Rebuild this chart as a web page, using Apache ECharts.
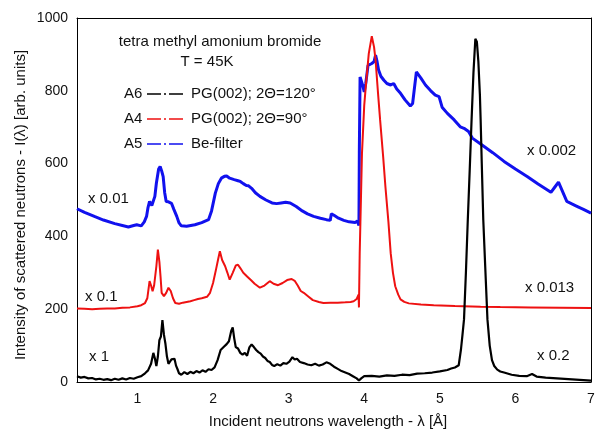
<!DOCTYPE html>
<html>
<head>
<meta charset="utf-8">
<script src="https://cdn.jsdelivr.net/npm/echarts@6/dist/echarts.min.js"></script>
<style>
html,body{margin:0;padding:0;background:#fff;}
.layer{position:absolute;left:0;top:0;width:595px;height:432px;}
#frame{z-index:1;}
#chart{z-index:2;}
</style>
</head>
<body>
<div class="layer" id="frame"></div>
<div class="layer" id="chart"></div>
<script>
// ---- data (wavelength in Å, intensity in arb. units as plotted) ----
var xMajorTicks = [1, 2, 3, 4, 5, 6, 7];
var yMajorTicks = [0, 200, 400, 600, 800, 1000];

// A6 — PG(002); 2Θ=120°  (x1 below 5 Å, x0.2 peak)
var a6 = [
 [0.20,16],[0.25,12],[0.30,14],[0.35,10],[0.40,11],[0.45,7],[0.50,9],[0.55,6],[0.60,8],[0.65,5],
 [0.70,9],[0.75,6],[0.80,10],[0.85,7],[0.90,11],[0.95,9],[1.00,13],[1.05,16],[1.10,24],[1.14,32],
 [1.18,50],[1.21,80],[1.23,65],[1.25,44],[1.27,70],[1.29,115],[1.31,125],[1.33,170],[1.35,130],[1.37,105],
 [1.39,70],[1.41,50],[1.43,55],[1.45,62],[1.47,58],[1.49,64],[1.51,45],[1.53,35],[1.55,24],[1.58,20],
 [1.62,27],[1.66,22],[1.70,28],[1.74,24],[1.78,30],[1.82,26],[1.86,32],[1.90,28],[1.94,35],[1.98,33],
 [2.02,40],[2.06,60],[2.10,88],[2.14,96],[2.18,104],[2.21,112],[2.24,140],[2.26,150],[2.28,120],[2.30,96],
 [2.33,92],[2.36,80],[2.39,75],[2.42,80],[2.45,72],[2.48,95],[2.51,103],[2.54,96],[2.57,88],[2.60,82],
 [2.63,78],[2.66,70],[2.69,66],[2.72,58],[2.75,55],[2.78,47],[2.81,44],[2.85,49],[2.89,45],[2.93,52],
 [2.97,50],[3.01,56],[3.05,68],[3.08,62],[3.11,64],[3.15,55],[3.20,52],[3.25,48],[3.30,46],[3.35,50],
 [3.40,45],[3.45,48],[3.50,54],[3.55,50],[3.60,42],[3.65,36],[3.70,30],[3.75,26],[3.80,22],[3.85,16],
 [3.90,10],[3.93,4],[3.96,10],[4.00,16],[4.10,17],[4.20,15],[4.30,18],[4.40,17],[4.50,20],[4.60,19],
 [4.70,23],[4.80,24],[4.90,26],[5.00,29],[5.10,33],[5.15,37],[5.20,40],[5.25,46],[5.28,90],[5.30,130],
 [5.32,172],[5.345,300],[5.37,445],[5.395,580],[5.42,720],[5.445,850],[5.47,943],[5.49,935],[5.51,880],[5.53,790],
 [5.54,720],[5.555,600],[5.575,445],[5.60,320],[5.63,172],[5.66,100],[5.69,60],[5.72,44],[5.76,34],[5.80,29],
 [5.85,26],[5.95,20],[6.05,17],[6.15,16],[6.22,22],[6.28,15],[6.40,12],[6.55,10],[6.70,8],[6.85,6],[7.00,4]
];

// A4 — PG(002); 2Θ=90°  (x0.1 below 3.93 Å, x0.013 above)
var a4 = [
 [0.20,202],[0.30,201],[0.40,200],[0.50,201],[0.60,202],[0.70,202],[0.80,204],[0.90,205],[1.00,208],[1.05,211],
 [1.10,217],[1.13,230],[1.16,277],[1.18,265],[1.20,249],[1.22,265],[1.25,318],[1.27,364],[1.29,330],[1.305,290],
 [1.32,245],[1.35,236],[1.38,245],[1.41,259],[1.44,250],[1.47,230],[1.50,217],[1.55,215],[1.60,218],[1.65,220],
 [1.70,222],[1.75,225],[1.80,228],[1.85,230],[1.92,234],[1.96,245],[2.00,272],[2.04,310],[2.07,340],[2.09,359],
 [2.12,335],[2.16,318],[2.19,300],[2.22,281],[2.26,300],[2.30,320],[2.33,322],[2.36,313],[2.40,300],[2.45,290],
 [2.50,280],[2.55,270],[2.62,259],[2.68,265],[2.75,277],[2.80,270],[2.86,266],[2.92,272],[2.98,280],[3.04,283],
 [3.08,278],[3.12,265],[3.16,250],[3.20,245],[3.26,235],[3.32,225],[3.40,220],[3.46,217],[3.55,218],[3.65,218],
 [3.75,219],[3.82,220],[3.86,222],[3.90,228],[3.925,240],[3.93,205],[3.94,354],[3.97,628],[4.00,760],[4.02,811],
 [4.06,902],[4.10,950],[4.13,920],[4.15,884],[4.18,800],[4.21,720],[4.25,620],[4.28,537],[4.32,440],[4.35,354],
 [4.38,300],[4.41,263],[4.45,240],[4.48,227],[4.53,220],[4.59,216],[4.75,213],[4.92,211],[5.20,209],[5.54,207],
 [5.80,206],[6.20,205],[6.60,204],[7.00,203]
];

// A5 — Be-filter  (x0.01 below 3.93 Å, x0.002 above)
var a5 = [
 [0.20,476],[0.30,466],[0.43,455],[0.55,445],[0.70,435],[0.80,430],[0.88,426],[0.95,430],[0.99,432],[1.05,429],
 [1.09,440],[1.12,455],[1.14,480],[1.16,496],[1.19,485],[1.21,482],[1.23,510],[1.25,546],[1.28,585],[1.30,592],
 [1.32,580],[1.34,564],[1.36,520],[1.38,496],[1.41,495],[1.45,491],[1.48,475],[1.52,455],[1.55,437],[1.58,429],
 [1.65,428],[1.76,432],[1.85,438],[1.94,446],[1.98,470],[2.03,519],[2.07,545],[2.11,560],[2.15,565],[2.18,566],
 [2.22,560],[2.28,556],[2.33,553],[2.36,551],[2.40,545],[2.44,540],[2.47,539],[2.51,532],[2.56,520],[2.62,510],
 [2.70,500],[2.78,492],[2.84,490],[2.90,492],[2.96,494],[3.02,492],[3.10,482],[3.18,470],[3.25,462],[3.33,455],
 [3.42,450],[3.50,446],[3.55,444],[3.565,462],[3.60,458],[3.66,450],[3.73,444],[3.80,440],[3.88,438],[3.91,442],
 [3.925,446],[3.93,430],[3.935,629],[3.945,838],[3.96,838],[3.98,815],[4.00,797],[4.02,820],[4.05,870],[4.10,875],
 [4.13,880],[4.15,898],[4.17,880],[4.19,857],[4.22,840],[4.26,829],[4.30,820],[4.35,816],[4.39,820],[4.43,805],
 [4.48,793],[4.54,775],[4.61,758],[4.64,765],[4.66,800],[4.69,852],[4.75,835],[4.81,816],[4.88,800],[4.94,788],
 [4.99,784],[5.03,755],[5.10,738],[5.19,720],[5.27,701],[5.32,697],[5.38,688],[5.43,670],[5.54,654],[5.70,630],
 [5.85,606],[6.00,585],[6.16,564],[6.30,544],[6.47,521],[6.52,535],[6.57,549],[6.62,525],[6.68,496],[6.80,484],
 [6.90,474],[7.00,464]
];

var FONT = '"Liberation Sans", Arial, sans-serif';
var GRID = {left: 77, right: 4, top: 18, bottom: 50, outerBoundsMode: 'none'};

// ---------- layer 1: frame with ticks ----------
function xd(pos, major, inside) {
  var als = {color: '#000', width: 1};
  var a = {type: 'value', min: 0.2, max: 7, position: pos, splitLine: {show: false},
    axisLine: {show: major, onZero: false, lineStyle: als}, axisLabel: {show: false},
    axisTick: {show: true, inside: inside, lineStyle: {color: '#000'}}};
  if (major) { a.axisTick.customValues = xMajorTicks; a.axisTick.length = 5; }
  else { a.interval = 0.2; a.axisTick.length = 3; }
  return a;
}
function yd(pos, inside) {
  return {type: 'value', min: 0, max: 1000, interval: 200, position: pos, splitLine: {show: false},
    axisLine: {show: true, onZero: false, lineStyle: {color: '#000', width: 1}},
    axisTick: {show: true, inside: inside, length: 5, lineStyle: {color: '#000'}},
    minorTick: {show: true, splitNumber: 2, length: 3, lineStyle: {color: '#000'}},
    axisLabel: {show: false}};
}
var frame = echarts.init(document.getElementById('frame'));
frame.setOption({
  animation: false,
  backgroundColor: '#ffffff',
  grid: GRID,
  xAxis: [xd('bottom', true, false), xd('bottom', false, false), xd('top', true, true), xd('top', false, true)],
  yAxis: [yd('left', false), yd('right', true)],
  series: [{type: 'line', data: [[1, 100], [5, 500]], showSymbol: false, lineStyle: {opacity: 0}, silent: true}]
});

// ---------- layer 2: labels, data and annotations (transparent) ----------
function txt(x, y, s, align) {
  return {type: 'text', x: x, y: y, silent: true,
    style: {text: s, fill: '#111', font: '15px ' + FONT, textAlign: align || 'left', textVerticalAlign: 'middle'}};
}
function legLine(y, color) {
  return {type: 'line', silent: true, shape: {x1: 147, y1: y, x2: 183, y2: y},
    style: {stroke: color, lineWidth: 1.5, lineDash: [14, 3, 2, 3]}};
}
var chart = echarts.init(document.getElementById('chart'));
chart.setOption({
  animation: false,
  backgroundColor: 'transparent',
  grid: GRID,
  xAxis: {type: 'value', min: 0.2, max: 7, splitLine: {show: false},
    axisLine: {show: false, onZero: false}, axisTick: {show: false},
    axisLabel: {customValues: xMajorTicks, color: '#111', fontSize: 14, fontFamily: FONT, margin: 10}},
  yAxis: {type: 'value', min: 0, max: 1000, interval: 200, splitLine: {show: false},
    axisLine: {show: false, onZero: false}, axisTick: {show: false},
    axisLabel: {customValues: yMajorTicks, color: '#111', fontSize: 14, fontFamily: FONT, margin: 9,
                formatter: function (v) { return String(v); }}},
  series: [
    {name: 'A6', type: 'line', data: a6, showSymbol: false, lineStyle: {color: '#000', width: 2.2}, z: 3},
    {name: 'A4', type: 'line', data: a4, showSymbol: false, lineStyle: {color: '#ee1111', width: 2}, z: 2},
    {name: 'A5', type: 'line', data: a5, showSymbol: false, lineStyle: {color: '#1111ee', width: 3}, z: 1}
  ],
  graphic: [
    txt(220, 42, 'tetra methyl amonium bromide', 'center'),
    txt(207, 62, 'T = 45K', 'center'),
    txt(124, 94, 'A6'), legLine(94, '#000'), txt(191, 94, 'PG(002); 2\u0398=120\u00b0'),
    txt(124, 119, 'A4'), legLine(119, '#ee1111'), txt(191, 119, 'PG(002); 2\u0398=90\u00b0'),
    txt(124, 144, 'A5'), legLine(144, '#1111ee'), txt(191, 144, 'Be-filter'),
    txt(88, 199, 'x 0.01'),
    txt(85, 297, 'x 0.1'),
    txt(89, 357, 'x 1'),
    txt(527, 151, 'x 0.002'),
    txt(525, 288, 'x 0.013'),
    txt(537, 356, 'x 0.2'),
    txt(328, 422, 'Incident neutrons wavelength - \u03bb [\u00c5]', 'center'),
    {type: 'text', x: 21, y: 205, rotation: Math.PI / 2, silent: true,
     style: {text: 'Intensity of scattered neutrons - I(\u03bb) [arb. units]', fill: '#111',
             font: '15px ' + FONT, textAlign: 'center', textVerticalAlign: 'middle'}}
  ]
});
</script>
</body>
</html>
